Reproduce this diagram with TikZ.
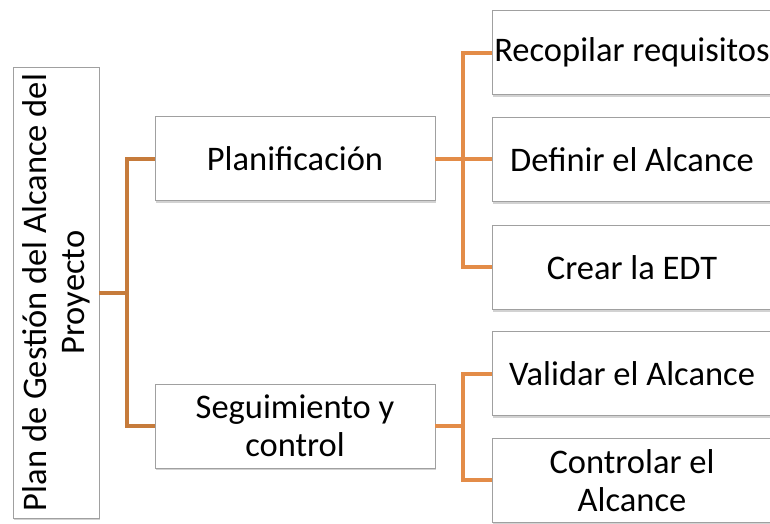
\documentclass[tikz,border=0pt]{standalone}
\usepackage{fontspec}
\setmainfont{Carlito}
\usepackage{tikz}
\usetikzlibrary{positioning,shadows}
\definecolor{linkdark}{HTML}{C67B3B}
\definecolor{linklight}{HTML}{E38C48}
\definecolor{boxline}{HTML}{A0A0A0}

\begin{document}
\begin{tikzpicture}[x=1pt,y=1pt,font=\fontsize{34.5}{38}\selectfont,
	box node/.style={rectangle,draw=boxline,fill=white,line width=0.9pt,align=center,minimum width=280,minimum height=84,inner sep=0pt,drop shadow={shadow xshift=1.2pt,shadow yshift=-2.4pt,opacity=0.35}},
	left link/.style={draw=linkdark,line width=4pt},
	right link/.style={draw=linklight,line width=4pt}]
			
			\useasboundingbox (0,0) rectangle (770,-523);
			\clip (0,0) rectangle (770,-523);
			\fill[white] (0,0) rectangle (770,-523);
			
			\node[box node,minimum width=86,minimum height=451] (root) at (56,-292.5) {};
			\node[rotate=90,align=center,inner sep=0pt] (roottext) at (root.center) {Plan de Gestión del Alcance del\\Proyecto};
			
			\node[box node] (plan) at (295,-158.5) {Planificación};
			\node[box node] (seg) at (295,-426) {Seguimiento y\\control};
			
			\node[box node] (reco) at (632,-52.5) {Recopilar requisitos};
			\node[box node] (def) [below = 22 of reco] {Definir el Alcance};
			\node[box node] (edt) [below = 23 of def] {Crear la EDT};
			\node[box node] (val) at (632,-373.5) {Validar el Alcance};
			\node[box node] (ctrl) [below = 22 of val] {Controlar el\\Alcance};
			
			\draw[left link] (root.east) -- ++(28,0) coordinate (j0);
			\draw[left link] (j0) |- (plan.west);
			\draw[left link] (j0) |- (seg.west);
			
			\draw[right link] (plan.east) -- ++(28,0) coordinate (j1);
			\draw[right link] (j1) |- (reco.west);
			\draw[right link] (j1) |- (def.west);
			\draw[right link] (j1) |- (edt.west);
			
			\draw[right link] (seg.east) -- ++(28,0) coordinate (j2);
			\draw[right link] (j2) |- (val.west);
			\draw[right link] (j2) |- (ctrl.west);
			\end{tikzpicture}
\end{document}
